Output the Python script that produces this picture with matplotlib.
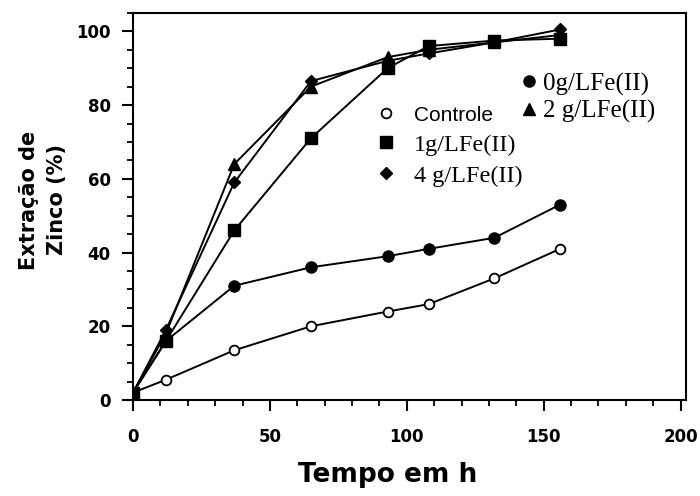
import matplotlib
matplotlib.use("Agg")
import matplotlib.pyplot as plt
from matplotlib.ticker import MultipleLocator

# time in hours
tempo = [0, 12, 37, 65, 93, 108, 132, 156]

controle = [2, 5.5, 13.5, 20, 24, 26, 33, 41]
fe_0g = [2, 16, 31, 36, 39, 41, 44, 53]
fe_1g = [2, 16, 46, 71, 90, 96, 97.5, 98]
fe_2g = [2, 18, 64, 85, 93, 95, 97, 99]
fe_4g = [2, 19, 59, 86.5, 92, 94, 97, 100.5]

fig = plt.figure(figsize=(7, 4.96), dpi=100)
ax = fig.add_axes([0.19, 0.1935, 0.79, 0.7805])

kw = dict(color="black", lw=1.4)
h_ctrl, = ax.plot(tempo, controle, marker="o", ms=7, mfc="white", mec="black", mew=1.3, **kw)
h_0g, = ax.plot(tempo, fe_0g, marker="o", ms=8, mfc="black", mec="black", **kw)
h_1g, = ax.plot(tempo, fe_1g, marker="s", ms=8, mfc="black", mec="black", **kw)
h_2g, = ax.plot(tempo, fe_2g, marker="^", ms=8, mfc="black", mec="black", **kw)
h_4g, = ax.plot(tempo, fe_4g, marker="D", ms=6, mfc="black", mec="black", **kw)

ax.set_xlim(0, 202)
ax.set_ylim(0, 105)

ax.xaxis.set_major_locator(MultipleLocator(50))
ax.xaxis.set_minor_locator(MultipleLocator(10))
ax.yaxis.set_major_locator(MultipleLocator(20))
ax.yaxis.set_minor_locator(MultipleLocator(5))
ax.tick_params(which="major", direction="out", length=8, width=1.5, labelsize=12)
ax.tick_params(which="minor", direction="out", length=4.5, width=1.3)
ax.tick_params(axis="x", pad=12)
ax.tick_params(axis="y", pad=8)
for lab in ax.get_xticklabels() + ax.get_yticklabels():
    lab.set_fontweight("bold")
for s in ax.spines.values():
    s.set_linewidth(1.5)

ax.set_xlabel("Tempo em h", fontsize=19, fontweight="bold")
ax.xaxis.set_label_coords(0.46, -0.16)
ax.set_ylabel("Extração de\nZinco (%)", fontsize=15, fontweight="bold", linespacing=1.45)
ax.yaxis.set_label_coords(-0.12, 0.517)

# legends drawn inside the plot area
leg1 = ax.legend([h_0g, h_2g], ["0g/LFe(II)", "2 g/LFe(II)"], loc="center left",
                 bbox_to_anchor=(0.665, 0.781), frameon=False, handlelength=0.5,
                 handletextpad=0.3, labelspacing=0.17, borderpad=0.4,
                 prop={"family": "Liberation Serif", "size": 18})
for h in leg1.legend_handles:
    h.set_linestyle("none")
ax.add_artist(leg1)

leg2 = ax.legend([h_ctrl, h_1g, h_4g], ["Controle", "1g/LFe(II)", "4 g/LFe(II)"],
                 loc="center left", bbox_to_anchor=(0.404, 0.658), frameon=False,
                 handlelength=0.6, handletextpad=0.85, labelspacing=0.36, borderpad=0.4,
                 prop={"family": "Liberation Serif", "size": 17.5})
for h in leg2.legend_handles:
    h.set_linestyle("none")
leg2.get_texts()[0].set_fontfamily("Liberation Sans")
leg2.get_texts()[0].set_fontsize(15)

fig.savefig("out.png", dpi=100)
